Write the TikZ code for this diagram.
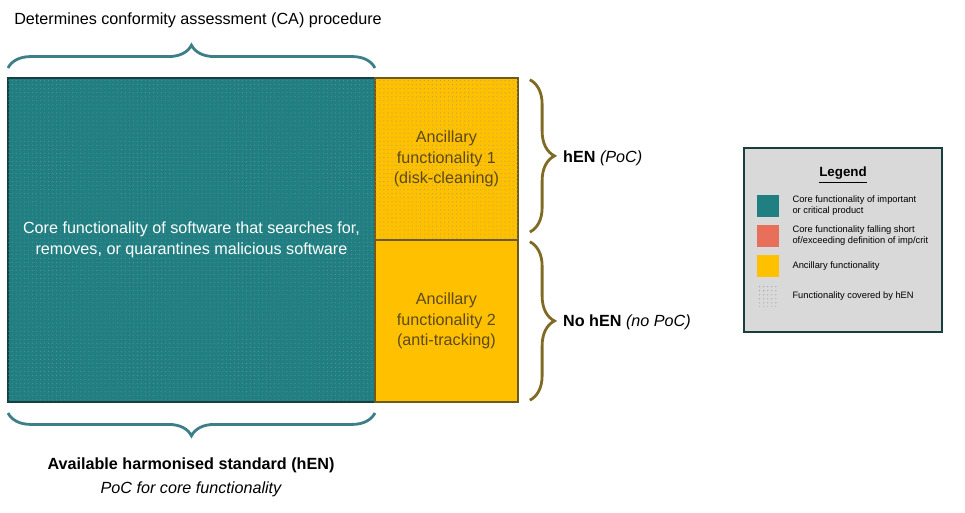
\documentclass[tikz,border=0pt]{standalone}
\usepackage{fontspec}
\setmainfont{Liberation Sans}
\usetikzlibrary{positioning,patterns.meta,decorations.pathreplacing}
\definecolor{coreteal}{HTML}{1F7F82}
\definecolor{coreedge}{HTML}{173F3F}
\definecolor{braceteal}{HTML}{3D7F87}
\definecolor{ancyellow}{HTML}{FFC000}
\definecolor{ancedge}{HTML}{6B5A1E}
\definecolor{anctext}{HTML}{5C4A1A}
\definecolor{bracebrown}{HTML}{7F6B26}
\definecolor{critred}{HTML}{E8705A}
\definecolor{legendgray}{HTML}{D9D9D9}
\begin{document}
\begin{tikzpicture}[x=0.02cm, y=0.02cm, font=\fontsize{9.2}{11.2}\selectfont,
	block/.style={rectangle, line width=1.1pt, outer sep=0pt, align=center},
	dotted fill/.style={postaction={pattern color=#1, pattern={Dots[distance=2.3pt, radius=0.3pt]}}},
	curly/.style={decorate, decoration={brace, amplitude=#1}, line width=1.6pt},
	swatch/.style={rectangle, minimum size=0.44cm, inner sep=0pt},
	legtext/.style={right=0.14cm of #1, align=left, font=\fontsize{5.3}{6.2}\selectfont}]
	\useasboundingbox (0,0) rectangle (965,513);
	% Place nodes
	\node [block, anchor=north west, fill=coreteal, draw=coreedge, text=white, font=\fontsize{9.2}{12}\selectfont, minimum width=7.34cm, minimum height=6.48cm, dotted fill=coreedge!60] (core) at (8,435) {Core functionality of software that searches for,\\removes, or quarantines malicious software};
	\node [block, anchor=north west, fill=ancyellow, draw=ancedge, text=anctext, font=\fontsize{9.2}{11.5}\selectfont, minimum width=2.86cm, minimum height=3.24cm, dotted fill=ancedge!60] (anc1) at (core.north east) {Ancillary\\functionality 1\\(disk-cleaning)};
	\node [block, below=0pt of anc1, fill=ancyellow, draw=ancedge, text=anctext, font=\fontsize{9.2}{11.5}\selectfont, minimum width=2.86cm, minimum height=3.24cm] (anc2) {Ancillary\\functionality 2\\(anti-tracking)};

	\node (ca) at (198,493) {Determines conformity assessment (CA) procedure};
	\node [font=\fontsize{9.2}{11.2}\selectfont\bfseries] (hen) at (191,48) {Available harmonised standard (hEN)};
	\node [font=\fontsize{9.2}{11.2}\selectfont\itshape, below=-2pt of hen] (poc) {PoC for core functionality};
	\node [anchor=west] (henpoc) at (557,355) {\textbf{hEN} \textit{(PoC)}};
	\node [anchor=west] (nohen) at (557,191) {\textbf{No hEN} \textit{(no PoC)}};

	% Braces
	\draw [curly=13pt, color=braceteal] ([yshift=5.7pt]core.north west) -- ([yshift=5.7pt]core.north east);
	\draw [curly=13pt, color=braceteal] ([yshift=-6.3pt]core.south east) -- ([yshift=-6.3pt]core.south west);
	\draw [curly=14pt, color=bracebrown] ([xshift=6.8pt,yshift=-1pt]anc1.north east) -- ([xshift=6.8pt,yshift=4.5pt]anc1.south east);
	\draw [curly=14pt, color=bracebrown] ([xshift=6.8pt,yshift=-1pt]anc2.north east) -- ([xshift=6.8pt,yshift=1pt]anc2.south east);

	% Legend
	\node [rectangle, draw=coreedge, line width=1.2pt, fill=legendgray, minimum width=3.96cm, minimum height=3.68cm] (legend) at (843,273) {};
	\node [font=\fontsize{7.6}{9}\selectfont\bfseries] (legtitle) at (843,338) {\underline{Legend}};
	\node [swatch, fill=coreteal] (sw1) at (768,307) {};
	\node [swatch, fill=critred] (sw2) at (768,277) {};
	\node [swatch, fill=ancyellow] (sw3) at (768,247) {};
	\node [swatch, pattern color=black!45, pattern={Dots[distance=2.3pt, radius=0.3pt]}] (sw4) at (768,217) {};
	\node [legtext=sw1] (lt1) {Core functionality of important\\or critical product};
	\node [legtext=sw2] (lt2) {Core functionality falling short\\of/exceeding definition of imp/crit};
	\node [legtext=sw3] (lt3) {Ancillary functionality};
	\node [legtext=sw4] (lt4) {Functionality covered by hEN};
\end{tikzpicture}
\end{document}
